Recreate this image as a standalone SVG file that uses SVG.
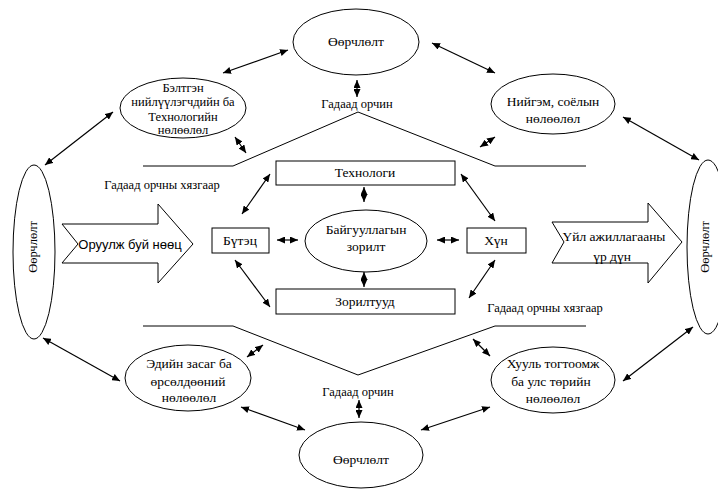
<svg xmlns="http://www.w3.org/2000/svg" width="718" height="491" viewBox="0 0 718 491">
<style>
.shape{fill:#fff;stroke:#000;stroke-width:1}
.bound{fill:none;stroke:#000;stroke-width:1}
.conn{fill:none;stroke:#000;stroke-width:1.2;marker-start:url(#ah);marker-end:url(#ah)}
text{font-family:"Liberation Serif","Times New Roman",serif;text-anchor:middle;fill:#000;font-size:12.5px}
.m{font-size:13.5px}
.sans{font-family:"Liberation Sans",Arial,sans-serif;font-size:13px}
</style>
<defs>
<marker id="ah" markerUnits="userSpaceOnUse" markerWidth="8" markerHeight="7" refX="8" refY="3.5" orient="auto-start-reverse">
<path d="M0,0 L8,3.5 L0,7 z" fill="#000"/>
</marker>
</defs>
<rect width="718" height="491" fill="#fff"/>
<g id="boundaries">
<polyline class="bound" points="143,166 233,166 358,112 495,166 586,166"/>
<polyline class="bound" points="143,326 233,326 358,375 495,326 586,326"/>
</g>
<g id="labels">
<text x="357" y="108">Гадаад орчин</text>
<text x="358" y="396">Гадаад орчин</text>
<text x="162" y="189">Гадаад орчны хязгаар</text>
<text x="545" y="312">Гадаад орчны хязгаар</text>
</g>
<g id="top-change"><ellipse class="shape" cx="356" cy="42" rx="63" ry="33"/><text class="m" x="356" y="46">Өөрчлөлт</text></g>
<g id="bottom-change"><ellipse class="shape" cx="361" cy="455" rx="62" ry="33"/><text class="m" x="361" y="464">Өөрчлөлт</text></g>
<g id="left-change"><ellipse class="shape" cx="34" cy="252" rx="21" ry="87"/><text x="0" y="0" transform="translate(37,247) rotate(-90)">Өөрчлөлт</text></g>
<g id="right-change"><ellipse class="shape" cx="708" cy="247" rx="21" ry="87"/><text x="0" y="0" transform="translate(709,247) rotate(-90)">Өөрчлөлт</text></g>
<g id="suppliers"><ellipse class="shape" cx="183" cy="108" rx="63" ry="30"/>
<text x="183" y="92">Бэлтгэн</text><text x="183" y="106">нийлүүлэгчдийн ба</text><text x="183" y="121">Технологийн</text><text x="183" y="134">нөлөөлөл</text></g>
<g id="social"><ellipse class="shape" cx="553" cy="104" rx="62" ry="30"/>
<text class="m" x="553" y="106">Нийгэм, соёлын</text><text class="m" x="553" y="123">нөлөөлөл</text></g>
<g id="economy"><ellipse class="shape" cx="188" cy="378" rx="63" ry="33"/>
<text class="m" x="189" y="368">Эдийн засаг ба</text><text class="m" x="188" y="386">өрсөлдөөний</text><text class="m" x="189" y="402">нөлөөлөл</text></g>
<g id="law"><ellipse class="shape" cx="553" cy="380" rx="62" ry="33"/>
<text class="m" x="553" y="368">Хууль тогтоомж</text><text class="m" x="551" y="386">ба улс төрийн</text><text class="m" x="553" y="403">нөлөөлөл</text></g>
<g id="input"><polygon class="shape" points="62,224 158,224 158,204 193,244 158,283 158,263 62,263 78,244"/><text class="sans" x="130" y="249">Оруулж буй нөөц</text></g>
<g id="output"><polygon class="shape" points="552,222 648,222 648,203 682,242 648,283 648,263 552,263 564,242"/><text class="m" x="614" y="241">Үйл ажиллагааны</text><text class="m" x="612" y="261">үр дүн</text></g>
<g id="technology"><rect class="shape" x="276" y="161" width="179" height="24"/><text class="m" x="365" y="177">Технологи</text></g>
<g id="tasks"><rect class="shape" x="276" y="289" width="179" height="25"/><text class="m" x="365" y="306">Зорилтууд</text></g>
<g id="structure"><rect class="shape" x="212" y="228" width="57" height="25"/><text class="m" x="240" y="245">Бүтэц</text></g>
<g id="people"><rect class="shape" x="467" y="228" width="59" height="25"/><text class="m" x="496" y="245">Хүн</text></g>
<g id="goal"><ellipse class="shape" cx="366" cy="241" rx="61" ry="31"/><text class="m" x="366" y="234">Байгууллагын</text><text class="m" x="366" y="251">зорилт</text></g>
<g id="connectors">
<line class="conn" x1="223" y1="73" x2="288" y2="50"/>
<line class="conn" x1="113" y1="112" x2="45" y2="165"/>
<line class="conn" x1="235" y1="137" x2="246" y2="153"/>
<line class="conn" x1="432" y1="43" x2="495" y2="73"/>
<line class="conn" x1="623" y1="117" x2="699" y2="160"/>
<line class="conn" x1="480" y1="147" x2="495" y2="137"/>
<line class="conn" x1="357" y1="80" x2="357" y2="97"/>
<line class="conn" x1="43" y1="338" x2="120" y2="381"/>
<line class="conn" x1="247" y1="357" x2="263" y2="345"/>
<line class="conn" x1="241" y1="407" x2="305" y2="430"/>
<line class="conn" x1="359" y1="400" x2="359" y2="418"/>
<line class="conn" x1="473" y1="339" x2="490" y2="356"/>
<line class="conn" x1="421" y1="430" x2="490" y2="407"/>
<line class="conn" x1="623" y1="381" x2="693" y2="327"/>
<line class="conn" x1="364" y1="187" x2="364" y2="202"/>
<line class="conn" x1="364" y1="272" x2="364" y2="287"/>
<line class="conn" x1="277" y1="240" x2="298" y2="240"/>
<line class="conn" x1="437" y1="240" x2="459" y2="240"/>
<line class="conn" x1="242" y1="214" x2="270" y2="174"/>
<line class="conn" x1="235" y1="260" x2="270" y2="307"/>
<line class="conn" x1="461" y1="174" x2="495" y2="221"/>
<line class="conn" x1="495" y1="260" x2="469" y2="298"/>
</g>
</svg>
